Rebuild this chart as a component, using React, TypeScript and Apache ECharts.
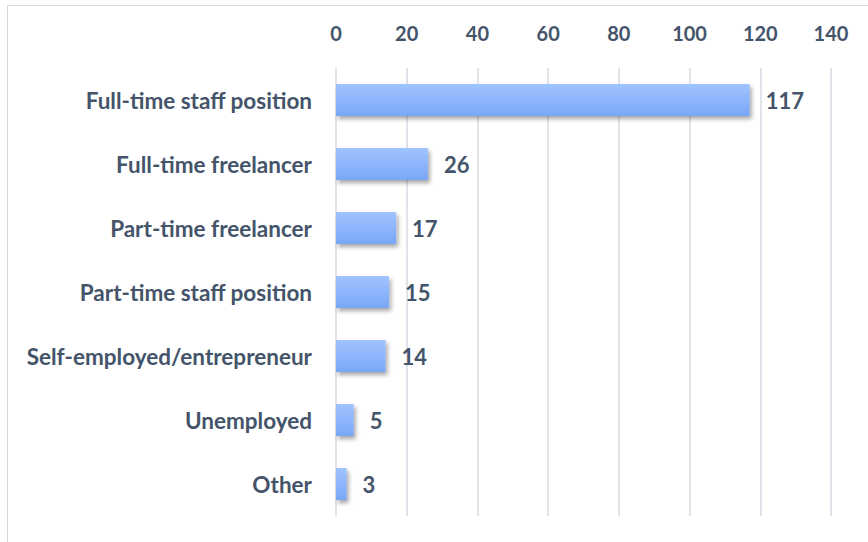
import React, { useEffect, useRef } from "react";
import * as echarts from "echarts";

const categories = [
  "Full-time staff position",
  "Full-time freelancer",
  "Part-time freelancer",
  "Part-time staff position",
  "Self-employed/entrepreneur",
  "Unemployed",
  "Other",
];
const values = [117, 26, 17, 15, 14, 5, 3];
const axisMin = 0;
const axisMax = 140;
const axisStep = 20;

export default function App() {
  const ref = useRef<HTMLDivElement>(null);
  useEffect(() => {
    if (!ref.current) return;
    const chart = echarts.init(ref.current, undefined, { renderer: "svg" });
    const textColor = "#44546A";
    const font = "Lato, 'Open Sans', sans-serif";
    chart.setOption({
      animation: false,
      backgroundColor: "#ffffff",
      graphic: [
        {
          type: "rect",
          shape: { x: 7.5, y: 5.5, width: 1000, height: 800 },
          style: { fill: "none", stroke: "#D9D9D9", lineWidth: 1 },
          silent: true,
        },
      ],
      grid: { left: 336, right: 37, top: 68, bottom: 26, containLabel: false },
      xAxis: {
        type: "value",
        position: "top",
        min: axisMin,
        max: axisMax,
        interval: axisStep,
        axisLine: { show: false },
        axisTick: { show: false },
        axisLabel: {
          color: textColor,
          fontFamily: font,
          fontWeight: "bold",
          fontSize: 20,
          margin: 25,
        },
        splitLine: { show: true, lineStyle: { color: "#E0E3EA", width: 2 } },
      },
      yAxis: {
        type: "category",
        data: categories,
        inverse: true,
        axisLine: { show: false },
        axisTick: { show: false },
        axisLabel: {
          color: textColor,
          fontFamily: font,
          fontWeight: "bold",
          fontSize: 22.5,
          margin: 24,
        },
      },
      series: [
        {
          type: "bar",
          data: values,
          barWidth: "50%",
          itemStyle: {
            color: new echarts.graphic.LinearGradient(0, 0, 0, 1, [
              { offset: 0, color: "#A0C4FF" },
              { offset: 1, color: "#7AA6F6" },
            ]),
            shadowColor: "rgba(0,0,0,0.35)",
            shadowBlur: 4,
            shadowOffsetX: 2,
            shadowOffsetY: 3,
          },
          label: {
            show: true,
            position: "right",
            distance: 16,
            color: textColor,
            fontFamily: font,
            fontWeight: "bold",
            fontSize: 22,
          },
        },
      ],
    });
    return () => chart.dispose();
  }, []);
  return (
    <div
      ref={ref}
      style={{ position: "absolute", left: 0, top: 0, width: 868, height: 542 }}
    />
  );
}
